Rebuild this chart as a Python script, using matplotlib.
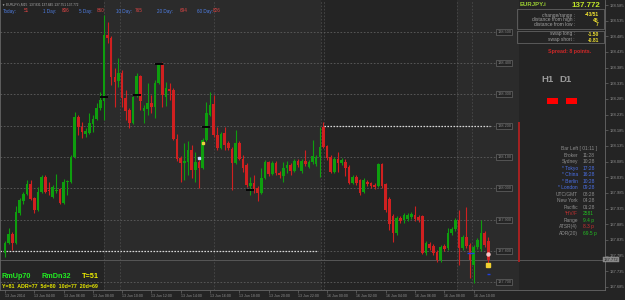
import matplotlib
matplotlib.use("Agg")
import matplotlib.pyplot as plt
import numpy as np

plt.rcParams['font.family'] = ['Liberation Sans', 'DejaVu Sans']

# EURJPY.i M15 bars, 13 Jun 2014 02:00 .. 16 Jun 2014 10:45 (broker time)
opens = [137.793, 137.825, 137.854, 137.825, 137.921, 137.959, 137.982, 138.014, 137.969, 137.931,
         137.988, 138.036, 137.995, 137.972, 137.991, 137.998, 137.953, 138.020, 138.020, 138.100,
         138.228, 138.196, 138.173, 138.177, 138.205, 138.221, 138.256, 138.279, 138.489, 138.480,
         138.355, 138.342, 138.368, 138.288, 138.250, 138.208, 138.295, 138.358, 138.247, 138.253,
         138.272, 138.260, 138.336, 138.394, 138.291, 138.317, 138.314, 138.157, 138.097, 138.081,
         138.084, 138.122, 138.058, 138.084, 138.065, 138.154, 138.234, 138.269, 138.170, 138.129,
         138.177, 138.145, 138.126, 138.081, 138.145, 138.094, 138.074, 138.007, 138.017, 138.001,
         137.985, 138.033, 138.084, 138.046, 138.081, 138.049, 138.040, 138.065, 138.074, 138.056,
         138.087, 138.056, 138.087, 138.068, 138.084, 138.078, 138.100, 138.196, 138.135, 138.100,
         138.052, 138.094, 138.081, 138.084, 138.068, 138.017, 138.036, 138.026, 137.988, 138.020,
         138.017, 138.011, 138.007, 138.078, 138.014, 137.966, 137.912, 137.857, 137.905, 137.899,
         137.902, 137.908, 137.915, 137.908, 137.912, 137.793, 137.822, 137.816, 137.797, 137.771,
         137.816, 137.809, 137.857, 137.870, 137.899, 137.809, 137.844, 137.819, 137.755, 137.813,
         137.806, 137.857, 137.831]
highs = [137.832, 137.873, 137.861, 137.943, 137.969, 137.988, 138.026, 138.026, 137.972, 138.004,
         138.042, 138.042, 138.020, 138.011, 138.046, 138.001, 138.030, 138.026, 138.106, 138.244,
         138.234, 138.212, 138.193, 138.240, 138.234, 138.272, 138.307, 138.553, 138.531, 138.486,
         138.384, 138.416, 138.377, 138.314, 138.256, 138.295, 138.368, 138.362, 138.266, 138.336,
         138.298, 138.346, 138.400, 138.403, 138.339, 138.336, 138.320, 138.173, 138.103, 138.145,
         138.151, 138.138, 138.116, 138.090, 138.161, 138.275, 138.307, 138.298, 138.196, 138.180,
         138.196, 138.151, 138.132, 138.186, 138.151, 138.106, 138.081, 138.036, 138.042, 138.007,
         138.065, 138.090, 138.087, 138.087, 138.087, 138.056, 138.084, 138.087, 138.081, 138.094,
         138.094, 138.094, 138.122, 138.090, 138.154, 138.106, 138.196, 138.212, 138.138, 138.106,
         138.100, 138.116, 138.097, 138.094, 138.074, 138.042, 138.042, 138.030, 138.033, 138.026,
         138.020, 138.017, 138.081, 138.081, 138.017, 137.972, 137.918, 137.912, 137.912, 137.921,
         137.921, 137.924, 137.943, 137.915, 137.915, 137.832, 137.829, 137.822, 137.803, 137.819,
         137.822, 137.873, 137.876, 137.905, 137.931, 137.851, 137.940, 137.825, 137.819, 137.841,
         137.899, 137.864, 137.845]
lows = [137.781, 137.822, 137.803, 137.822, 137.915, 137.950, 137.979, 137.963, 137.921, 137.928,
        137.985, 137.985, 137.979, 137.969, 137.985, 137.950, 137.950, 137.979, 138.017, 138.097,
        138.170, 138.161, 138.164, 138.173, 138.180, 138.218, 138.250, 138.218, 138.464, 138.330,
        138.260, 138.323, 138.260, 138.218, 138.193, 138.205, 138.291, 138.250, 138.208, 138.234,
        138.240, 138.224, 138.333, 138.260, 138.263, 138.282, 138.154, 138.087, 138.020, 138.026,
        138.042, 138.033, 138.020, 138.001, 138.062, 138.151, 138.231, 138.164, 138.122, 138.126,
        138.122, 138.122, 137.995, 138.078, 138.090, 138.052, 138.004, 137.979, 137.985, 137.959,
        137.982, 138.030, 138.040, 138.042, 138.042, 138.033, 138.020, 138.049, 138.042, 138.052,
        138.068, 138.049, 138.071, 138.065, 138.078, 138.071, 138.036, 138.129, 138.090, 138.049,
        138.049, 138.052, 138.074, 138.040, 138.014, 138.014, 138.011, 137.979, 137.985, 138.007,
        138.001, 137.998, 138.004, 138.001, 137.924, 137.867, 137.829, 137.851, 137.889, 137.889,
        137.896, 137.902, 137.896, 137.892, 137.790, 137.787, 137.803, 137.787, 137.765, 137.765,
        137.800, 137.803, 137.851, 137.864, 137.755, 137.803, 137.809, 137.714, 137.698, 137.806,
        137.800, 137.813, 137.751]
closes = [137.825, 137.854, 137.825, 137.924, 137.963, 137.982, 138.014, 137.966, 137.931, 137.988,
          138.036, 137.988, 137.991, 138.004, 137.995, 137.953, 138.020, 138.023, 138.100, 138.228,
          138.196, 138.180, 138.183, 138.208, 138.221, 138.256, 138.282, 138.489, 138.480, 138.355,
          138.339, 138.368, 138.288, 138.247, 138.208, 138.291, 138.358, 138.279, 138.256, 138.272,
          138.260, 138.336, 138.394, 138.298, 138.320, 138.310, 138.157, 138.094, 138.081, 138.087,
          138.122, 138.058, 138.084, 138.065, 138.154, 138.240, 138.266, 138.170, 138.129, 138.173,
          138.138, 138.129, 138.081, 138.145, 138.094, 138.065, 138.011, 138.017, 137.998, 137.985,
          138.033, 138.084, 138.046, 138.081, 138.049, 138.042, 138.065, 138.074, 138.056, 138.087,
          138.074, 138.087, 138.078, 138.084, 138.103, 138.100, 138.132, 138.132, 138.097, 138.052,
          138.094, 138.081, 138.090, 138.065, 138.017, 138.036, 138.017, 137.985, 138.026, 138.014,
          138.007, 138.004, 138.078, 138.007, 137.931, 137.886, 137.857, 137.905, 137.896, 137.915,
          137.915, 137.918, 137.902, 137.899, 137.793, 137.825, 137.809, 137.793, 137.771, 137.813,
          137.806, 137.857, 137.870, 137.899, 137.809, 137.844, 137.816, 137.771, 137.813, 137.835,
          137.857, 137.819, 137.772]

time_pos = [0, 8, 16, 24, 32, 40, 48, 56, 64, 72, 80, 88, 96, 104, 112, 120, 128]
time_labels = ["13 Jun 2014", "13 Jun 04:00", "13 Jun 06:00", "13 Jun 08:00", "13 Jun 10:00",
               "13 Jun 12:00", "13 Jun 14:00", "13 Jun 16:00", "13 Jun 18:00", "13 Jun 20:00",
               "13 Jun 22:00", "16 Jun 00:00", "16 Jun 02:00", "16 Jun 04:00", "16 Jun 06:00",
               "16 Jun 08:00", "16 Jun 10:00"]
price_ticks = [137.685 + 0.05 * k for k in range(19)]
round_levels = [137.7, 137.8, 137.9, 138.0, 138.1, 138.2, 138.3, 138.4, 138.5]
bid = 137.772
day_high, day_low = 138.200, 137.800
session_lines = [27.0, 31.4, 57.1, 86.3, 87.2, 123.5, 127.6]
black_marks = [(27, 138.291), (36, 138.298), (42, 138.397), (55, 138.196), (67, 137.995)]

BG = '#242424'
BAND = '#2b2b2b'
GREEN = '#0e9e0e'
RED = '#d02020'
GRAY = '#8e8e8e'

fig = plt.figure(figsize=(6.25, 3.0), dpi=100, facecolor=BG)
ax = fig.add_axes([0, 10 / 300, 605 / 625, 290 / 300])
ax.set_facecolor(BG)
ax.set_xlim(-1.37, 163.9)
ax.set_ylim(137.675, 138.601)

ax.axvspan(27.0, 86.3, color=BAND, lw=0, zorder=0)
ax.axvspan(123.5, 140.4, color=BAND, lw=0, zorder=0)
for s in session_lines:
    ax.axvline(s, color='#4a4a4a', lw=0.6, ls=(0, (2, 2)), zorder=1)

for lvl in round_levels:
    ax.hlines(lvl, -1.37, 133.9, colors='#5e5e5e', linestyles=(0, (2, 2)), lw=0.6, zorder=1)
    ax.text(136.4, lvl, "%.3f" % lvl, fontsize=2.8, color='#858585', ha='center', va='center',
            bbox=dict(boxstyle='square,pad=0.25', fc=BG, ec='#666666', lw=0.5), zorder=3)

ax.hlines(day_low, -1.37, 85.5, colors='#d8d8d8', linestyles=(0, (1.2, 1.2)), lw=0.9, zorder=2)
ax.hlines(day_high, 87.2, 132.5, colors='#d8d8d8', linestyles=(0, (1.2, 1.2)), lw=0.9, zorder=2)
ax.axhline(bid, color='#575757', lw=0.7, zorder=1)

# candles
o = np.array(opens); h = np.array(highs); l = np.array(lows); c = np.array(closes)
idx = np.arange(len(o))
cols = np.where(c >= o, GREEN, RED)
ax.vlines(idx, l, h, colors=cols, lw=0.8, zorder=4)
body = np.maximum(np.abs(c - o), 0.0016)
ax.bar(idx, body, bottom=np.minimum(o, c), width=0.72, color=cols, lw=0, zorder=5)

for bi, pr in black_marks:
    ax.hlines(pr, bi - 1.1, bi + 1.1, colors='#050505', lw=1.4, zorder=6)
ax.plot([53], [138.097], 's', ms=2, color='#c8d8ff', zorder=7)
ax.plot([54], [138.145], 's', ms=2, color='#f0d040', zorder=7)
ax.plot([132], [137.790], 'o', ms=2.2, color='#f4c8c8', zorder=7)
ax.plot([132], [137.755], 's', ms=2.2, color='#f0d030', zorder=7)
ax.hlines(137.726, 131.6, 132.6, colors='#2040e0', lw=1, zorder=7)
ax.hlines(137.794, 126.2, 128, colors='#2040e0', lw=1, zorder=7)

ax.vlines(140.4, 137.765, 138.212, colors='#b02020', lw=1.3, zorder=4)

# axes
for name, sp in ax.spines.items():
    sp.set_color('#686868')
    sp.set_linewidth(0.6)
ax.spines['top'].set_visible(False)
ax.yaxis.tick_right()
ax.set_yticks(price_ticks)
ax.set_yticklabels(["%.3f" % t for t in price_ticks])
ax.tick_params(axis='y', colors='#686868', labelcolor=GRAY, labelsize=3.0, length=2, width=0.5, pad=1.5)
ax.set_xticks(time_pos)
ax.set_xticklabels(time_labels, ha='left')
ax.tick_params(axis='x', colors='#686868', labelcolor=GRAY, labelsize=2.6, length=2, width=0.5, pad=1.2)
ax.text(163.5, bid, "%.3f" % bid, fontsize=3.0, color='#222222', ha='left', va='center',
        bbox=dict(boxstyle='square,pad=0.2', fc='#8a8a8a', ec='#8a8a8a', lw=0.3), clip_on=False, zorder=8)


def T(x, y, s, **kw):
    kw.setdefault('va', 'center')
    fig.text(x / 625, 1 - y / 300, s, **kw)


# header
T(2, 4.5, "\u25bc EURJPY.i,M15  137.831 137.845 137.751 137.772", fontsize=2.3, color='#b0b0b0')
hdr = [(3, "Today:", 24, "51"), (43, "1 Day:", 62, "806"), (79, "5 Day:", 97, "860"),
       (116, "10 Day:", 135, "765"), (157, "20 Day:", 180, "694"), (197, "60 Day:", 213, "826")]
for lx, lab, vx, val in hdr:
    T(lx, 11, lab, fontsize=3.3, color='#4f7fe6')
    T(vx, 11, val, fontsize=3.3, color='#e04545')

# top right panel
pcol = '#6e6e6e'
for y0, y1 in [(9, 29), (31, 43)]:
    fig.add_artist(plt.Rectangle((517 / 625, 1 - y1 / 300), 87 / 625, (y1 - y0) / 300,
                                 fill=False, ec=pcol, lw=0.5, transform=fig.transFigure))
T(520, 5, "EURJPY.i", fontsize=4.3, color='#9acd32', weight='bold')
T(600, 5.5, "137.772", fontsize=5.8, color='#c2e62a', weight='bold', ha='right')
rows = [(15, "change/range :", "-43/51"), (20, "distance from high :", "45"),
        (25, "distance from low :", "7"), (34, "swap long :", "-1.50"), (40, "swap short :", "-0.81")]
for y, lab, val in rows:
    T(575, y, lab, fontsize=3.5, color='#a0a0a0', ha='right')
    T(599, y, val, fontsize=3.6, color='#eee030', ha='right', weight='bold')
T(570, 52, "Spread: 8 points.", fontsize=3.8, color='#d02828', ha='center', weight='bold')

T(547, 80, "H1", fontsize=6.8, color='#9a9a9a', weight='bold', ha='center')
T(565, 80, "D1", fontsize=6.8, color='#9a9a9a', weight='bold', ha='center')
for rx in (547, 566):
    fig.add_artist(plt.Rectangle((rx / 625, 1 - 104 / 300), 11 / 625, 6 / 300,
                                 color='#ff0000', lw=0, transform=fig.transFigure))

# clock / stats block
T(597, 149, "Bar Left [ 01:11 ]", fontsize=3.5, color=GRAY, ha='right')
info = [("Broker", "11:28", GRAY, GRAY), ("Sydney", "10:28", GRAY, GRAY),
        ("* Tokyo", "17:28", '#4a70e8', '#4a70e8'), ("* China", "16:28", '#4a70e8', '#4a70e8'),
        ("* Berlin", "10:28", '#4a70e8', '#4a70e8'), ("* London", "09:28", '#4a70e8', '#4a70e8'),
        ("UTC/GMT", "08:28", GRAY, GRAY), ("New York", "04:28", GRAY, GRAY),
        ("Pacific", "01:28", GRAY, GRAY), ("*HV/F", "2581", '#c03030', '#22c022'),
        ("Range", "9.4 p", GRAY, '#22c022'), ("ATSR(4)", "8.3 p", GRAY, '#d03030'),
        ("ADR(20)", "69.5 p", GRAY, '#22c022')]
for k, (lab, val, lc, vc) in enumerate(info):
    y = 155.5 + 6.46 * k
    T(578, y, lab, fontsize=3.5, color=lc, ha='right')
    T(583, y, val, fontsize=3.5, color=vc, ha='left')

# bottom left
T(2, 276, "RmUp70", fontsize=5.2, color='#22ee22', weight='bold')
T(41, 276, "RmDn32", fontsize=5.2, color='#22ee22', weight='bold')
T(82, 276, "T=51", fontsize=5.2, color='#f0f000', weight='bold')
T(2, 287, "Y=81  ADR=77  5d=80  10d=77  20d=69", fontsize=3.8, color='#e6e600', weight='bold')

fig.savefig("out.png", dpi=100, facecolor=BG)
